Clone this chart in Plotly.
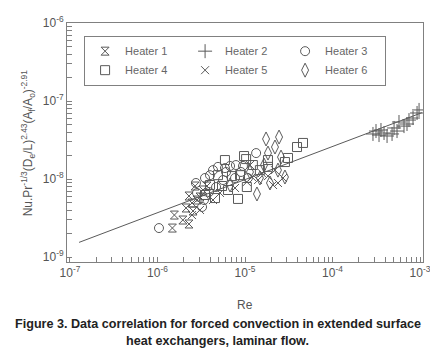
import numpy as np
import plotly.graph_objects as go

# ---- data ----
h1_re = [1.48e-6, 1.56e-6, 1.95e-6, 2.29e-6, 2.29e-6, 2.12e-6, 2.48e-6, 2.55e-6, 2.83e-6, 3.06e-6, 3.31e-6, 3.68e-6, 2.69e-6]
h1_y = [2.35e-9, 3.45e-9, 2.98e-9, 2.65e-9, 6.05e-9, 4.25e-9, 4.92e-9, 3.89e-9, 5.38e-9, 5.88e-9, 7.23e-9, 8.13e-9, 8.13e-9]

h2_re = [2.90e-4, 3.14e-4, 3.40e-4, 3.58e-4, 3.88e-4, 4.20e-4, 4.79e-4, 5.46e-4, 5.75e-4, 5.05e-4, 7.10e-4, 7.48e-4, 8.32e-4, 9.25e-4, 9.75e-4, 6.56e-4]
h2_y = [3.78e-8, 4.12e-8, 3.66e-8, 4.25e-8, 3.89e-8, 3.56e-8, 3.78e-8, 4.12e-8, 5.38e-8, 4.51e-8, 5.07e-8, 5.70e-8, 6.05e-8, 7.02e-8, 7.68e-8, 4.77e-8]

h3_re = [1.04e-6, 2.75e-6, 3.49e-6, 3.98e-6, 4.31e-6, 4.91e-6, 5.90e-6, 6.75e-6, 7.88e-6, 1.34e-5, 5.61e-6, 7.69e-6, 9.00e-6, 3.88e-6, 4.67e-6, 3.40e-6, 2.83e-6, 9.48e-6, 1.08e-5, 3.23e-6, 6.07e-6]
h3_y = [2.35e-9, 8.89e-9, 1.03e-8, 1.12e-8, 1.30e-8, 1.43e-8, 1.38e-8, 1.47e-8, 1.51e-8, 2.15e-8, 9.70e-9, 1.03e-8, 1.23e-8, 6.81e-9, 7.89e-9, 5.38e-9, 6.62e-9, 1.47e-8, 1.03e-8, 4.38e-9, 1.23e-8]

h4_re = [9.75e-6, 1.03e-5, 8.32e-6, 1.83e-5, 1.83e-5, 2.86e-5, 3.10e-5, 3.93e-5, 4.60e-5, 3.98e-6, 4.91e-6, 7.10e-6, 6.40e-6, 3.49e-6, 4.54e-6, 5.46e-6, 8.77e-6, 1.48e-5, 1.23e-5, 5.90e-6, 1.05e-5]
h4_y = [1.97e-8, 1.80e-8, 5.55e-9, 1.75e-8, 1.43e-8, 1.65e-8, 1.86e-8, 2.57e-8, 2.90e-8, 8.38e-9, 1.12e-8, 1.09e-8, 7.23e-9, 6.24e-9, 5.70e-9, 8.13e-9, 1.12e-8, 1.30e-8, 1.51e-8, 1.75e-8, 7.89e-9]

h5_re = [1.05e-5, 1.20e-5, 1.41e-5, 1.56e-5, 1.83e-5, 2.09e-5, 2.38e-5, 2.72e-5, 2.20e-5, 4.31e-6, 5.18e-6, 7.69e-6, 1.14e-5, 3.06e-6, 2.48e-6]
h5_y = [9.16e-9, 1.06e-8, 9.70e-9, 1.19e-8, 1.09e-8, 8.38e-9, 8.89e-9, 1.03e-8, 1.30e-8, 5.38e-9, 6.62e-9, 7.67e-9, 1.51e-8, 4.01e-9, 3.45e-9]

h6_re = [1.74e-5, 2.45e-5, 2.20e-5, 1.83e-5, 2.58e-5, 1.37e-5, 1.48e-5, 1.93e-5, 2.86e-5, 2.38e-5, 1.65e-5, 1.14e-5, 6.75e-6]
h6_y = [3.26e-8, 3.45e-8, 2.57e-8, 2.15e-8, 1.91e-8, 6.43e-9, 1.03e-8, 8.89e-9, 1.06e-8, 1.30e-8, 1.51e-8, 1.23e-8, 8.38e-9]

fit_re = [1.27e-7, 1.05e-3]
fit_y = [1.54e-9, 7.08e-8]

series_names = ["Heater 1", "Heater 2", "Heater 3", "Heater 4", "Heater 5", "Heater 6"]
x_decades = [-7, -6, -5, -4, -3]
x_tick_labels = ["10<sup>-7</sup>", "10<sup>-6</sup>", "10<sup>-5</sup>", "10<sup>-4</sup>", "10<sup>-3</sup>"]
y_decades = [-9, -8, -7, -6]
y_tick_labels = ["10<sup>-9</sup>", "10<sup>-8</sup>", "10<sup>-7</sup>", "10<sup>-6</sup>"]

# ---- figure ----
gray = "#5a5a5a"
axis_gray = "#808080"
symbols = ["hourglass-open", "cross-thin-open", "circle-open", "square-open", "x-thin-open", "diamond-tall-open"]
sizes = [8, 10, 9, 9, 8, 10]
data = [(h1_re, h1_y), (h2_re, h2_y), (h3_re, h3_y), (h4_re, h4_y), (h5_re, h5_y), (h6_re, h6_y)]

fig = go.Figure()
fig.add_trace(go.Scatter(x=fit_re, y=fit_y, mode="lines", line=dict(color=gray, width=1), showlegend=False))
for name, (xs, ys), sym, sz in zip(series_names, data, symbols, sizes):
    fig.add_trace(go.Scatter(x=xs, y=ys, mode="markers", name=name,
                             marker=dict(symbol=sym, size=sz, color=gray, line=dict(color=gray, width=1))))

def minor_vals(decades):
    return [m * 10.0 ** d for d in decades[:-1] for m in range(2, 10)]

font_fam = "Liberation Sans, Arial, sans-serif"
common = dict(type="log", ticks="inside", ticklen=5, tickcolor=axis_gray, showgrid=False, zeroline=False,
              showline=True, linecolor=axis_gray, linewidth=1, mirror=True,
              tickfont=dict(family=font_fam, size=12, color="#555"))
fig.update_xaxes(range=[-7.034, -2.966], tickmode="array",
                 tickvals=[10.0 ** d for d in x_decades], ticktext=x_tick_labels,
                 minor=dict(tickmode="array", tickvals=minor_vals(x_decades), ticks="inside", ticklen=5,
                            tickcolor=axis_gray, showgrid=False),
                 **common)
fig.update_yaxes(range=[-9.064, -6.0], tickmode="array",
                 tickvals=[10.0 ** d for d in y_decades], ticktext=y_tick_labels,
                 minor=dict(tickmode="array", tickvals=minor_vals(y_decades), ticks="inside", ticklen=5,
                            tickcolor=axis_gray, showgrid=False),
                 **common)

fig.update_layout(
    width=430, height=349,
    margin=dict(l=59, r=15, t=15, b=95, autoexpand=False),
    paper_bgcolor="white", plot_bgcolor="white",
    font=dict(family=font_fam, color="#555"),
    legend=dict(orientation="h", x=0.048, y=0.947, xanchor="left", yanchor="top",
                bgcolor="white", bordercolor=axis_gray, borderwidth=1,
                entrywidth=55, entrywidthmode="pixels",
                font=dict(family=font_fam, size=11, color="#666")),
    annotations=[
        dict(text="Nu.Pr<sup>-1/3</sup>(D<sub>e</sub>/L)<sup>2.43</sup>(A<sub>f</sub>/A<sub>o</sub>)<sup>-2.91</sup>",
             xref="paper", yref="paper", x=-0.11, y=0.5, textangle=-90, showarrow=False,
             xanchor="center", yanchor="middle", font=dict(size=12, color="#555")),
        dict(text="Re", xref="paper", yref="paper", x=0.5, y=-0.18, showarrow=False,
             xanchor="center", yanchor="middle", font=dict(size=12, color="#555")),
        dict(text="<b>Figure 3. Data correlation for forced convection in extended surface</b>",
             xref="paper", yref="paper", x=0.424, y=-0.259, showarrow=False,
             xanchor="center", yanchor="middle", font=dict(size=12.6, color="#222")),
        dict(text="<b>heat exchangers, laminar flow.</b>",
             xref="paper", yref="paper", x=0.424, y=-0.331, showarrow=False,
             xanchor="center", yanchor="middle", font=dict(size=12.6, color="#222")),
    ],
)

fig.write_html("out.html")
